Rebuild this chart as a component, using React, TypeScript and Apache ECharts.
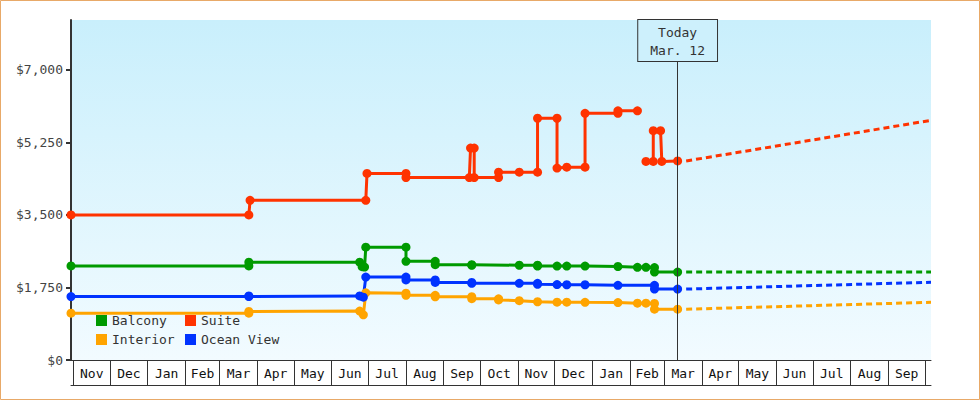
import React, { useEffect, useRef } from "react";
import * as echarts from "echarts";

// ---------- data ----------
const xMin = "2012-10-30";
const xMax = "2014-10-06";
const todayDate = "2014-03-12";
const todayLabel = ["Today", "Mar. 12"];
const todayBoxBottom = 7210;

const monthLabels = [
  "Nov", "Dec", "Jan", "Feb", "Mar", "Apr", "May", "Jun", "Jul", "Aug", "Sep", "Oct",
  "Nov", "Dec", "Jan", "Feb", "Mar", "Apr", "May", "Jun", "Jul", "Aug", "Sep",
];
const monthStarts = [
  "2012-11-01", "2012-12-01", "2013-01-01", "2013-02-01", "2013-03-01", "2013-04-01",
  "2013-05-01", "2013-06-01", "2013-07-01", "2013-08-01", "2013-09-01", "2013-10-01",
  "2013-11-01", "2013-12-01", "2014-01-01", "2014-02-01", "2014-03-01", "2014-04-01",
  "2014-05-01", "2014-06-01", "2014-07-01", "2014-08-01", "2014-09-01", "2014-10-01",
];
const yTicks = [0, 1750, 3500, 5250, 7000];
const yMax = 8200;

type Pt = [string, number | null];

const balcony: Pt[] = [
  ["2012-10-30", 2270], ["2013-03-25", 2270], ["2013-03-25", 2360], ["2013-06-24", 2360],
  ["2013-06-26", 2250], ["2013-06-28", 2240], ["2013-06-29", 2720], ["2013-08-01", 2720],
  ["2013-08-01", 2380], ["2013-08-25", 2380], ["2013-08-25", 2300], ["2013-09-24", 2300],
  ["2013-09-24", 2285], ["2013-11-02", 2285], ["2013-11-17", 2285], ["2013-11-17", 2265],
  ["2013-12-03", 2265], ["2013-12-11", 2265], ["2013-12-26", 2265], ["2014-01-22", 2255],
  ["2014-02-07", 2235], ["2014-02-14", 2235], ["2014-02-21", 2230], ["2014-02-21", 2120],
  ["2014-03-12", 2120],
];
const suite: Pt[] = [
  ["2012-10-30", 3500], ["2013-03-25", 3500], ["2013-03-26", 3850], ["2013-06-29", 3850],
  ["2013-06-30", 4500], ["2013-08-01", 4500], ["2013-08-01", 4400], ["2013-09-22", 4400],
  ["2013-09-23", 5110], ["2013-09-26", 5110], ["2013-09-26", 4400], ["2013-10-16", 4400],
  ["2013-10-16", 4530], ["2013-11-02", 4530], ["2013-11-17", 4530], ["2013-11-17", 5830],
  ["2013-12-03", 5830], ["2013-12-03", 4630], ["2013-12-11", 4650], ["2013-12-26", 4650],
  ["2013-12-26", 5950], ["2014-01-22", 5950], ["2014-01-22", 6010], ["2014-02-07", 6010],
  ["2014-02-10", null],
  ["2014-02-14", 4790], ["2014-02-20", 4790], ["2014-02-20", 5530], ["2014-02-26", 5530],
  ["2014-02-27", 4790], ["2014-03-12", 4800],
];
const oceanView: Pt[] = [
  ["2012-10-30", 1530], ["2013-03-25", 1530], ["2013-03-25", 1545], ["2013-06-24", 1545],
  ["2013-06-27", 1515], ["2013-06-29", 2000], ["2013-08-01", 2000], ["2013-08-01", 1930],
  ["2013-08-25", 1930], ["2013-08-25", 1870], ["2013-09-24", 1870], ["2013-09-24", 1850],
  ["2013-11-02", 1850], ["2013-11-17", 1850], ["2013-11-17", 1827], ["2013-12-03", 1820],
  ["2013-12-11", 1815], ["2013-12-26", 1815], ["2014-01-22", 1800], ["2014-02-21", 1800],
  ["2014-02-21", 1710], ["2014-03-12", 1710],
];
const interior: Pt[] = [
  ["2012-10-30", 1130], ["2013-03-25", 1130], ["2013-03-25", 1170], ["2013-06-24", 1180],
  ["2013-06-27", 1090], ["2013-06-29", 1620], ["2013-08-01", 1610], ["2013-08-01", 1560],
  ["2013-08-25", 1560], ["2013-08-25", 1525], ["2013-09-24", 1525], ["2013-09-24", 1480],
  ["2013-10-16", 1475], ["2013-10-16", 1450], ["2013-11-02", 1430], ["2013-11-17", 1405],
  ["2013-12-03", 1395], ["2013-12-11", 1395], ["2013-12-26", 1390], ["2014-01-22", 1385],
  ["2014-02-07", 1370], ["2014-02-14", 1370], ["2014-02-21", 1365], ["2014-02-21", 1225],
  ["2014-03-12", 1225],
];

const suiteForecast: Pt[] = [["2014-03-19", 4800], ["2014-10-06", 5780]];
const balconyForecast: Pt[] = [["2014-03-19", 2120], ["2014-10-06", 2120]];
const oceanViewForecast: Pt[] = [["2014-03-19", 1710], ["2014-10-06", 1875]];
const interiorForecast: Pt[] = [["2014-03-19", 1225], ["2014-10-06", 1392]];

const colors = {
  Balcony: "#009a00",
  Suite: "#ff3300",
  Interior: "#ffa400",
  "Ocean View": "#0033ff",
};

// ---------- helpers ----------
const FONT = "DejaVu Sans Mono";
const t = (s: string) => {
  const [y, m, d] = s.split("-").map(Number);
  return new Date(y, m - 1, d).getTime();
};
const toData = (arr: Pt[]) => arr.map(([d, v]) => [t(d), v == null ? "-" : v]);

export default function App() {
  const ref = useRef<HTMLDivElement>(null);

  useEffect(() => {
    if (!ref.current) return;
    const chart = echarts.init(ref.current, undefined, { renderer: "svg" });

    const starts = monthStarts.map(t);
    const mids = monthLabels.map((_, i) => (starts[i] + starts[i + 1]) / 2);
    const labelFor = (v: number) => {
      let best = 0;
      let bd = Infinity;
      mids.forEach((m, i) => {
        const d = Math.abs(m - v);
        if (d < bd) {
          bd = d;
          best = i;
        }
      });
      return monthLabels[best];
    };

    const solid = (name: keyof typeof colors, arr: Pt[], extra: any = {}) => ({
      name,
      type: "line",
      data: toData(arr),
      symbol: "circle",
      symbolSize: 9,
      showSymbol: true,
      connectNulls: false,
      itemStyle: { color: colors[name] },
      lineStyle: { color: colors[name], width: 3 },
      emphasis: { disabled: true },
      z: 3,
      ...extra,
    });
    const dashed = (name: keyof typeof colors, arr: Pt[]) => ({
      name: name + " forecast",
      type: "line",
      data: toData(arr),
      showSymbol: false,
      symbol: "none",
      itemStyle: { color: colors[name] },
      lineStyle: { color: colors[name], width: 3, type: [6, 4] },
      emphasis: { disabled: true },
      z: 2,
    });

    const legendCommon = {
      orient: "vertical",
      icon: "rect",
      itemWidth: 11,
      itemHeight: 11,
      itemGap: 6,
      top: 309,
      selectedMode: false,
      textStyle: { fontFamily: FONT, fontSize: 13, color: "#333" },
    };

    chart.setOption({
      animation: false,
      backgroundColor: "#ffffff",
      grid: {
        left: 71,
        right: 49,
        top: 20,
        bottom: 40,
        show: true,
        borderWidth: 0,
        backgroundColor: new echarts.graphic.LinearGradient(0, 0, 0, 1, [
          { offset: 0, color: "#c9effc" },
          { offset: 1, color: "#f2fbff" },
        ]),
      },
      legend: [
        { ...legendCommon, left: 91, data: ["Balcony", "Interior"] },
        { ...legendCommon, left: 180, data: ["Suite", "Ocean View"] },
      ],
      xAxis: [
        {
          type: "value",
          min: t(xMin),
          max: t(xMax),
          position: "bottom",
          axisLine: { show: true, onZero: false, lineStyle: { color: "#333", width: 1 } },
          axisTick: {
            show: true,
            customValues: starts,
            length: 25,
            lineStyle: { color: "#333", width: 1 },
          },
          axisLabel: {
            show: true,
            customValues: mids,
            formatter: (v: number) => labelFor(v),
            margin: 7,
            color: "#111",
            fontFamily: FONT,
            fontSize: 13,
            hideOverlap: false,
            showMinLabel: true,
            showMaxLabel: true,
          },
          splitLine: { show: false },
        },
        {
          type: "value",
          min: t(xMin),
          max: t(xMax),
          position: "bottom",
          offset: 25,
          axisLine: { show: true, onZero: false, lineStyle: { color: "#333", width: 1 } },
          axisTick: { show: false },
          axisLabel: { show: false },
          splitLine: { show: false },
        },
      ],
      yAxis: {
        type: "value",
        min: 0,
        max: yMax,
        axisLine: { show: true, lineStyle: { color: "#333", width: 2 } },
        axisTick: {
          show: true,
          customValues: yTicks,
          length: 5,
          lineStyle: { color: "#333", width: 2 },
        },
        axisLabel: {
          customValues: yTicks,
          formatter: (v: number) => "$" + v.toLocaleString("en-US"),
          margin: 8,
          color: "#444",
          fontFamily: FONT,
          fontSize: 13,
        },
        splitLine: { show: false },
      },
      graphic: [
        {
          type: "rect",
          silent: true,
          shape: { x: 0.5, y: 0.5, width: 979, height: 399 },
          style: { fill: "none", stroke: "#e8a968", lineWidth: 1 },
        },
      ],
      series: [
        dashed("Suite", suiteForecast),
        dashed("Balcony", balconyForecast),
        dashed("Ocean View", oceanViewForecast),
        dashed("Interior", interiorForecast),
        solid("Interior", interior),
        solid("Ocean View", oceanView),
        solid("Balcony", balcony),
        solid("Suite", suite, {
          markLine: {
            silent: true,
            symbol: ["none", "none"],
            animation: false,
            emphasis: { disabled: true },
            lineStyle: { color: "#333", width: 1, type: "solid" },
            label: {
              show: true,
              position: "end",
              distance: 0,
              formatter: todayLabel.join("\n"),
              fontFamily: FONT,
              fontSize: 13,
              lineHeight: 18,
              color: "#333",
              padding: [3, 12, 2, 12],
              borderColor: "#333",
              borderWidth: 1,
              backgroundColor: "#cdf0fc",
            },
            data: [
              [
                { coord: [t(todayDate), 0] },
                { coord: [t(todayDate), todayBoxBottom] },
              ],
            ],
          },
        }),
      ],
    });

    return () => chart.dispose();
  }, []);

  return (
    <div style={{ position: "absolute", left: 0, top: 0, width: 980, height: 400 }}>
      <div ref={ref} style={{ width: 980, height: 400 }} />
    </div>
  );
}
